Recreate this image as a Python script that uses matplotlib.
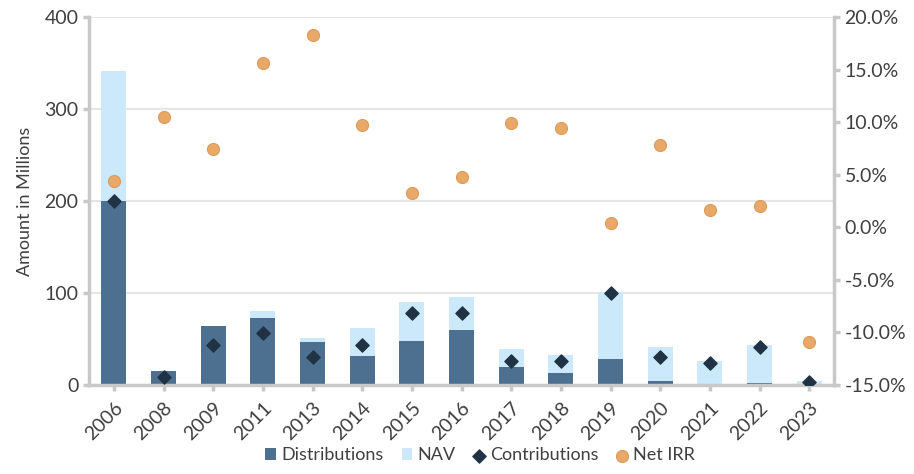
import matplotlib
matplotlib.use("Agg")
import matplotlib.pyplot as plt
import numpy as np
from matplotlib.ticker import FuncFormatter

# vintage years and fund figures (amounts in millions, IRR in %)
years = ["2006", "2008", "2009", "2011", "2013", "2014", "2015", "2016",
	"2017", "2018", "2019", "2020", "2021", "2022", "2023"]
distributions = [200, 15, 64, 73, 47, 32, 48, 60, 20, 13, 28, 4.5, 1, 2, 0]
nav = [141, 0, 0, 7, 4, 30, 42, 36, 19, 20, 73, 36.5, 25, 41, 4]
contributions = [200, 9, 43, 57, 30, 43, 78, 78, 26, 26, 100, 30, 24, 41, 3.5]
net_irr = [4.4, 10.5, 7.45, 15.6, 18.3, 9.7, 3.3, 4.8, 9.9, 9.4, 0.45, 7.8,
	1.6, 2.0, -10.9]

plt.rcParams["font.family"] = ["Lato", "DejaVu Sans"]
text_color = "#404040"
axis_color = "#c8c8c8"

fig = plt.figure(figsize=(9.14, 4.74), dpi=100)
ax = fig.add_axes([0.0974, 0.1878, 0.8151, 0.7763])
ax2 = ax.twinx()

x = np.arange(len(years))
b1 = ax.bar(x, distributions, width=0.5, color="#4d7090", label="Distributions", zorder=2)
b2 = ax.bar(x, nav, width=0.5, bottom=distributions, color="#cce9fb", label="NAV", zorder=2)
s1 = ax.scatter(x, contributions, marker="D", s=45, color="#1f3344",
	label="Contributions", zorder=3)
s2 = ax2.scatter(x, net_irr, marker="o", s=75, color="#e8a868", edgecolor="#dc9a5a",
	linewidth=0.8, label="Net IRR", zorder=3)

# left axis: amounts
ax.set_xlim(-0.5, len(years) - 0.5)
ax.set_ylim(0, 400)
ax.set_yticks([0, 100, 200, 300, 400])
ax.yaxis.grid(True, color="#e6e6e6", linewidth=1.5, zorder=0)
ax.set_axisbelow(True)
ax.set_ylabel("Amount in Millions", fontsize=13, color=text_color, labelpad=8)

# right axis: IRR
ax2.set_ylim(-15, 20)
ax2.set_yticks(np.arange(-15, 21, 5))
ax2.yaxis.set_major_formatter(FuncFormatter(lambda v, p: "{:.1f}%".format(v)))

ax.set_xticks(x)
ax.set_xticklabels(years, rotation=45, ha="right", rotation_mode="anchor")

for a in (ax, ax2):
	a.spines["top"].set_visible(False)
	for side in ("left", "right", "bottom"):
		a.spines[side].set_color(axis_color)
		a.spines[side].set_linewidth(2.5)
	a.tick_params(axis="both", colors=axis_color, labelcolor=text_color,
		labelsize=14, length=4, width=2.5)
ax.spines["right"].set_visible(False)
ax2.spines["left"].set_visible(False)
ax2.spines["bottom"].set_visible(False)
ax.tick_params(axis="x", pad=6)

fig.legend([b1, b2, s1, s2], ["Distributions", "NAV", "Contributions", "Net IRR"],
	loc="lower center", bbox_to_anchor=(0.525, -0.012), ncol=4, frameon=False,
	fontsize=13, handlelength=0.6, handleheight=0.6, handletextpad=0.3,
	columnspacing=1.0, labelcolor=text_color)

plt.savefig("out.png", dpi=100)
